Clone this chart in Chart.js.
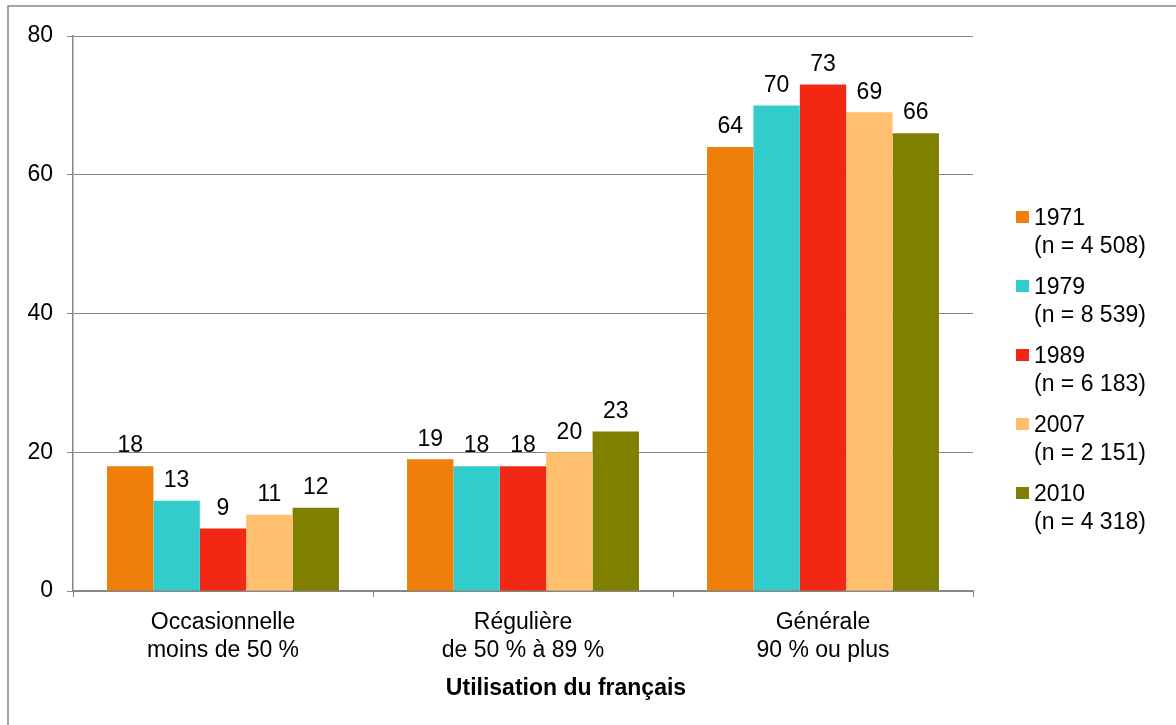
<!DOCTYPE html>
<html>
<head>
<meta charset="utf-8">
<script src="https://cdn.jsdelivr.net/npm/chart.js@4.4.1/dist/chart.umd.min.js"></script>
<style>
  body { margin: 0; background: #fff; }
</style>
</head>
<body>
<canvas id="usage-chart" width="1176" height="725"></canvas>
<script>
const categories = [
  ['Occasionnelle', 'moins de 50 %'],
  ['Régulière', 'de 50 % à 89 %'],
  ['Générale', '90 % ou plus'],
];
const seriesYears = ['1971', '1979', '1989', '2007', '2010'];
const sampleSizes = ['(n = 4 508)', '(n = 8 539)', '(n = 6 183)', '(n = 2 151)', '(n = 4 318)'];
const values1971 = [18, 19, 64];
const values1979 = [13, 18, 70];
const values1989 = [9, 18, 73];
const values2007 = [11, 20, 69];
const values2010 = [12, 23, 66];
const yTicks = [0, 20, 40, 60, 80];
const axisTitle = 'Utilisation du français';

const FONT = '"Liberation Sans", Arial, sans-serif';
const GRID_COLOR = '#878787';
const SERIES_COLORS = ['#F07F09', '#33CCCC', '#F32814', '#FFBF6F', '#7F7F00'];

const seriesValues = [values1971, values1979, values1989, values2007, values2010];

// frame around the whole chart, only top and left edge are inside the picture
const framePlugin = {
  id: 'frame',
  beforeDraw(chart) {
    const ctx = chart.ctx;
    ctx.save();
    ctx.strokeStyle = GRID_COLOR;
    ctx.lineWidth = 1.5;
    ctx.strokeRect(8, 6, 1200, 760);
    ctx.restore();
  },
};

const valueLabelsPlugin = {
  id: 'valueLabels',
  afterDatasetsDraw(chart) {
    const ctx = chart.ctx;
    ctx.save();
    ctx.font = `23px ${FONT}`;
    ctx.fillStyle = '#000';
    ctx.textAlign = 'center';
    ctx.textBaseline = 'middle';
    chart.data.datasets.forEach((dataset, i) => {
      chart.getDatasetMeta(i).data.forEach((bar, j) => {
        ctx.fillText(String(dataset.data[j]), bar.x, bar.y - 20);
      });
    });
    ctx.restore();
  },
};

// axis title sits a bit right of the plot centre in the original
const axisTitlePlugin = {
  id: 'axisTitle',
  afterDraw(chart) {
    const ctx = chart.ctx;
    const area = chart.chartArea;
    ctx.save();
    ctx.font = `bold 23px ${FONT}`;
    ctx.fillStyle = '#000';
    ctx.textAlign = 'center';
    ctx.textBaseline = 'middle';
    ctx.fillText(axisTitle, (area.left + area.right) / 2 + 43, 689);
    ctx.restore();
  },
};

const sideLegendPlugin = {
  id: 'sideLegend',
  afterDraw(chart) {
    const ctx = chart.ctx;
    const left = chart.chartArea.right + 43;
    const top = 217;
    const step = 69;
    ctx.save();
    ctx.font = `23px ${FONT}`;
    ctx.textAlign = 'left';
    ctx.textBaseline = 'middle';
    seriesYears.forEach((year, i) => {
      const y = top + i * step;
      ctx.fillStyle = SERIES_COLORS[i];
      ctx.fillRect(left, y - 6, 13, 12);
      ctx.fillStyle = '#000';
      ctx.fillText(year, left + 18, y + 2);
      ctx.fillText(sampleSizes[i], left + 18, y + 30);
    });
    ctx.restore();
  },
};

function createDatasets() {
  return seriesYears.map((year, i) => ({
    label: year,
    data: seriesValues[i],
    backgroundColor: SERIES_COLORS[i],
    borderWidth: 0,
    categoryPercentage: 0.773,
    barPercentage: 1,
  }));
}

function createScales() {
  return {
    x: {
      grid: {
        drawOnChartArea: false,
        drawTicks: true,
        tickLength: 6,
        color: GRID_COLOR,
      },
      border: { display: true, color: GRID_COLOR, width: 1.5 },
      ticks: {
        color: '#000',
        font: { family: FONT, size: 23, lineHeight: 1.24 },
        padding: 11,
        maxRotation: 0,
      },
      afterFit(scale) {
        scale.height = 134;
      },
    },
    y: {
      min: 0,
      max: 80,
      afterBuildTicks(scale) {
        scale.ticks = yTicks.map((v) => ({ value: v }));
      },
      grid: {
        color: GRID_COLOR,
        lineWidth: 1,
        tickLength: 6,
      },
      border: { display: true, color: GRID_COLOR, width: 1.5 },
      ticks: {
        color: '#000',
        font: { family: FONT, size: 23 },
        padding: 14,
      },
      afterFit(scale) {
        scale.width = 73;
      },
    },
  };
}

new Chart(document.getElementById('usage-chart'), {
  type: 'bar',
  data: {
    labels: categories,
    datasets: createDatasets(),
  },
  options: {
    responsive: false,
    animation: false,
    layout: {
      padding: { left: 0, top: 36, right: 203, bottom: 0 },
    },
    plugins: {
      legend: { display: false },
      tooltip: { enabled: false },
    },
    scales: createScales(),
  },
  plugins: [framePlugin, valueLabelsPlugin, axisTitlePlugin, sideLegendPlugin],
});
</script>
</body>
</html>
